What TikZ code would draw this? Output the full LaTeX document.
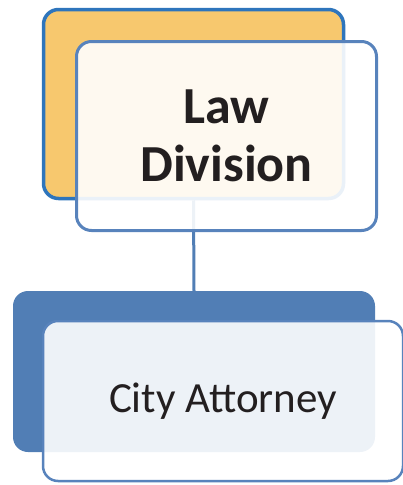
\documentclass[tikz,border=0pt]{standalone}
\usepackage{fontspec}
\setmainfont{Carlito}
\definecolor{lawfill}{RGB}{247,200,110}
\definecolor{lawline}{RGB}{46,117,188}
\definecolor{boxline}{RGB}{88,131,188}
\definecolor{cityfill}{RGB}{81,126,181}
\definecolor{textcol}{RGB}{35,31,32}

\begin{document}
\begin{tikzpicture}[x=1pt,y=-1pt,
                    back box/.style={rectangle,rounded corners=15pt,inner sep=0pt},
                    front box/.style={rectangle,rounded corners=15pt,inner sep=0pt,draw=boxline,
                      line width=3pt,fill=white,fill opacity=0.9,text opacity=1,
                      align=center,text=textcol}]
  \useasboundingbox (0,0) rectangle (403,485);
  \node[back box,draw=lawline,line width=3.5pt,fill=lawfill,
        minimum width=300pt,minimum height=189pt] (lawback) at (193.5,104) {};
  \node[back box,fill=cityfill,
        minimum width=362pt,minimum height=161pt] (cityback) at (194,371.5) {};
  \path[draw=cityfill,line width=3pt]
    (lawback.south) edge (cityback.north)
    ;
  \node[front box,minimum width=300pt,minimum height=189pt,
        font=\fontsize{52}{58}\selectfont\bfseries] (lawfront) at (226.5,136) {Law\\Division};
  \node[front box,line width=2.5pt,minimum width=360pt,minimum height=160pt,
        font=\fontsize{43}{50}\selectfont] (cityfront) at (223,401) {City Attorney};
\end{tikzpicture}
\end{document}
